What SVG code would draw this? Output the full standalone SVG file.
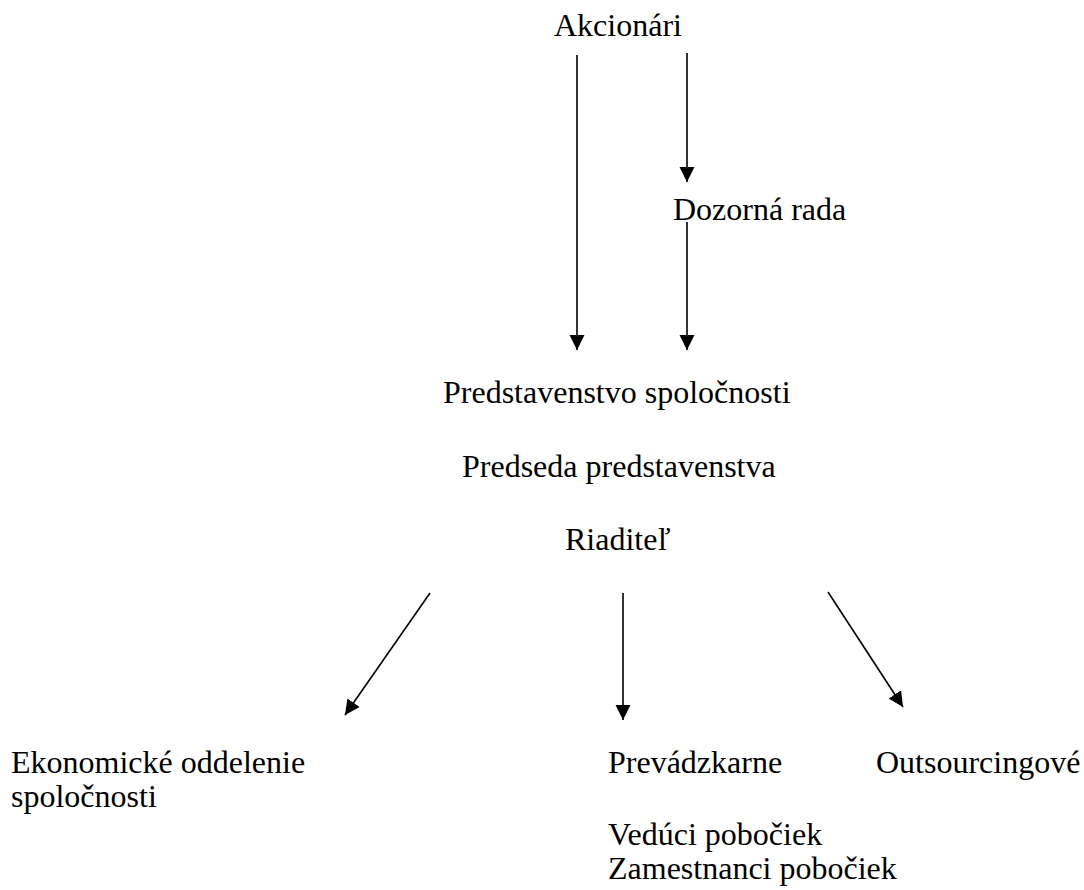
<svg xmlns="http://www.w3.org/2000/svg" width="1084" height="890" viewBox="0 0 1084 890">
<style>
text{font-family:"Liberation Serif","Times New Roman",serif;font-size:32px;fill:#000}
.c line{stroke:#000;stroke-width:1.6;marker-end:url(#ah)}
</style>
<defs>
<marker id="ah" markerUnits="userSpaceOnUse" markerWidth="16" markerHeight="16" viewBox="0 0 16 16" refX="15" refY="8" orient="auto">
<path d="M0,0.5 L15,8 L0,15.5 z" fill="#000"/>
</marker>
</defs>
<rect width="1084" height="890" fill="#fff"/>
<g id="akcionari"><text x="554" y="36">Akcionári</text></g>
<g id="dozorna-rada"><text x="673" y="220">Dozorná rada</text></g>
<g id="predstavenstvo"><text x="443" y="403">Predstavenstvo spoločnosti</text></g>
<g id="predseda"><text x="462" y="477">Predseda predstavenstva</text></g>
<g id="riaditel"><text x="565" y="550">Riaditeľ</text></g>
<g id="ekonomicke"><text x="11" y="773">Ekonomické oddelenie</text><text x="11" y="807">spoločnosti</text></g>
<g id="prevadzkarne"><text x="608" y="773">Prevádzkarne</text><text x="608" y="845">Vedúci pobočiek</text><text x="608" y="879">Zamestnanci pobočiek</text></g>
<g id="outsourcing"><text x="876" y="773">Outsourcingové</text></g>
<g class="c" id="connectors">
<line x1="577" y1="55" x2="577" y2="350"/>
<line x1="687" y1="53" x2="687" y2="182"/>
<line x1="687" y1="222" x2="687" y2="350"/>
<line x1="430" y1="593" x2="345" y2="715"/>
<line x1="623" y1="593" x2="623" y2="720"/>
<line x1="828" y1="592" x2="903" y2="707"/>
</g>
</svg>
